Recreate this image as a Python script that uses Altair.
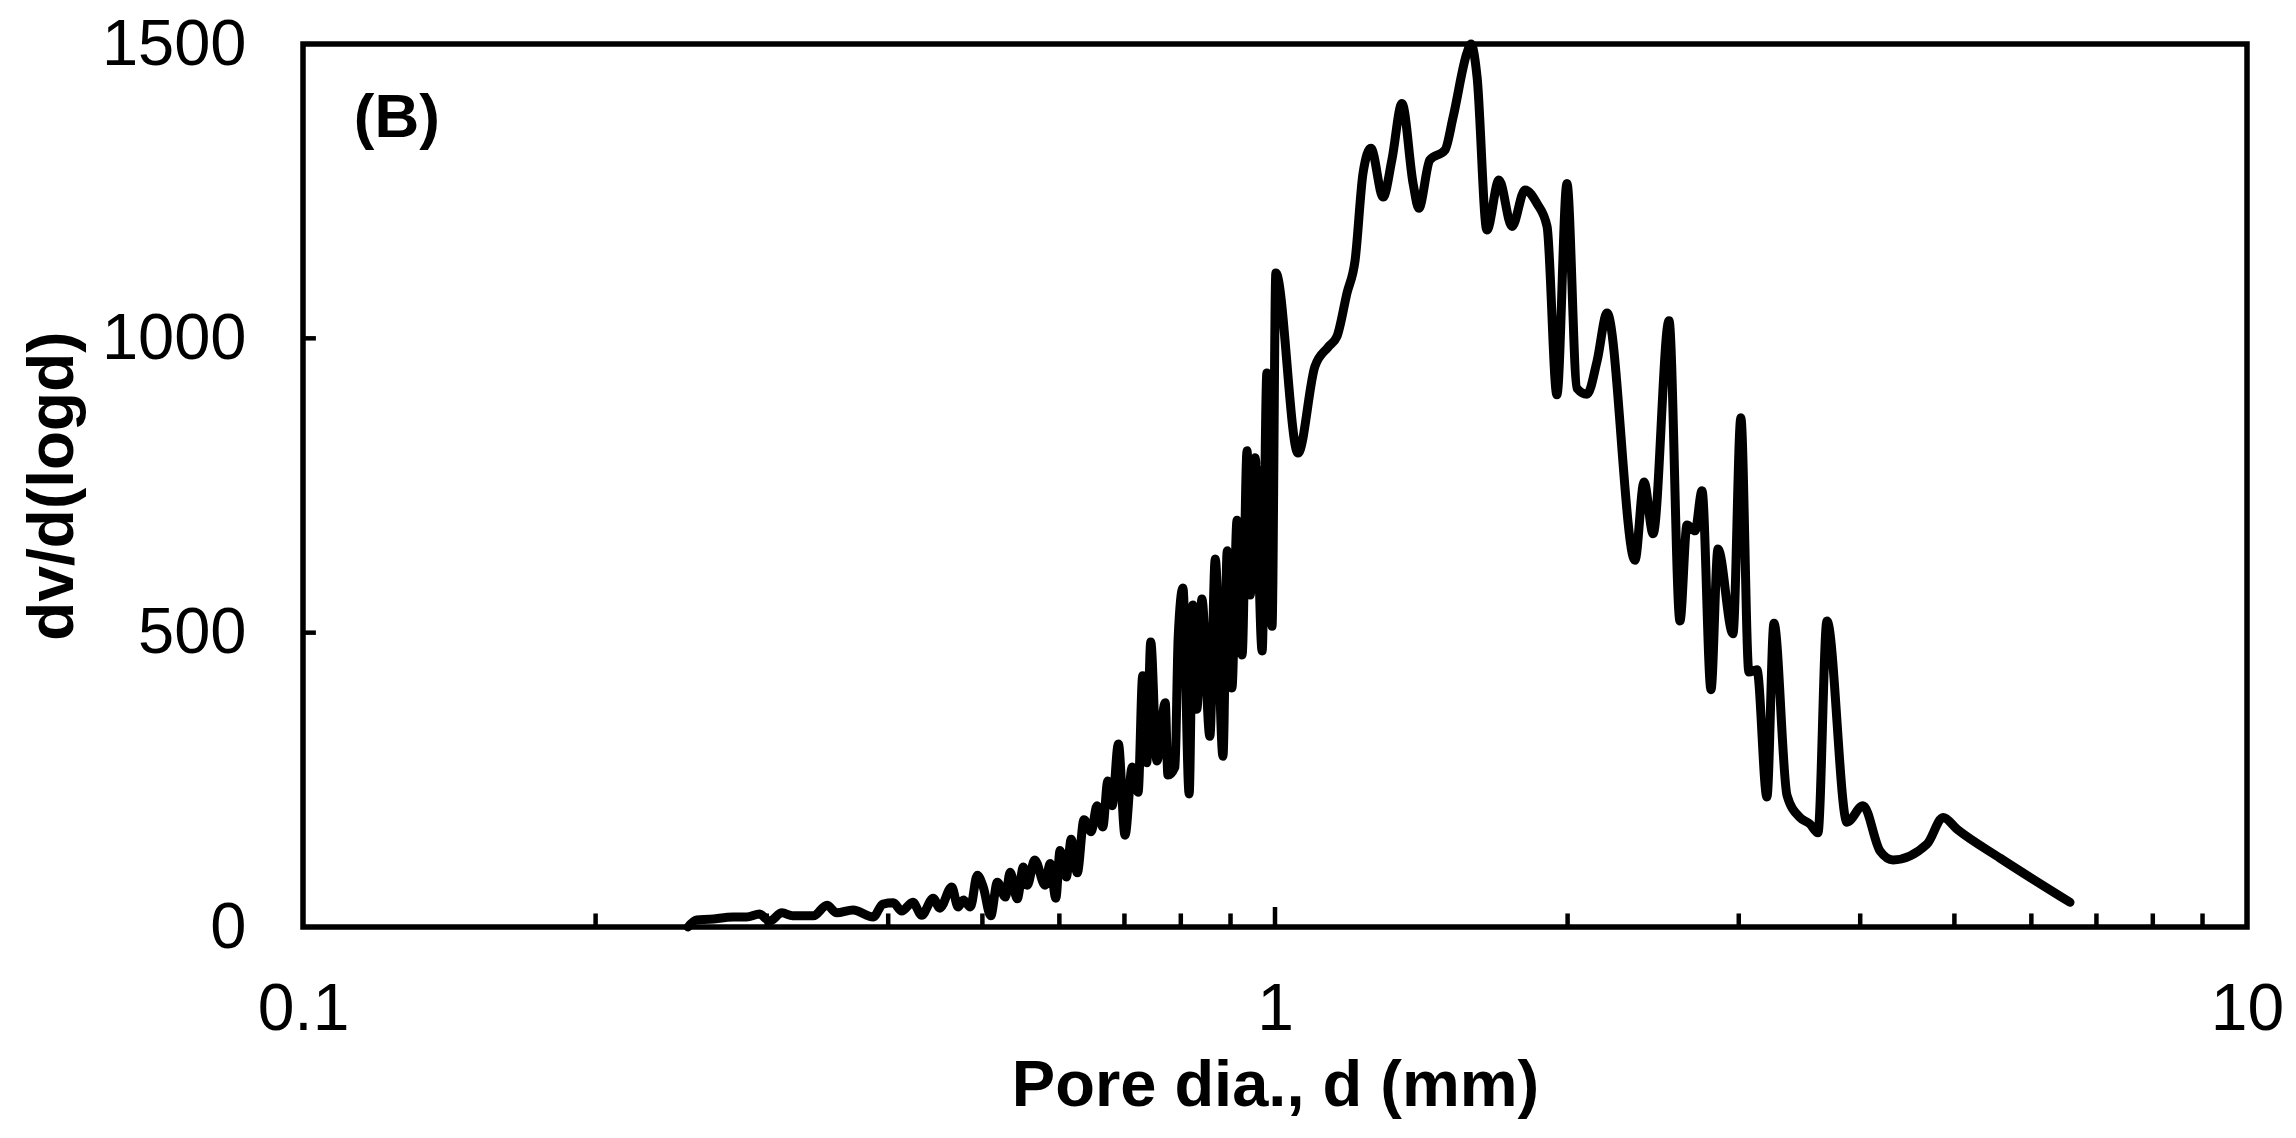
import altair as alt
import pandas as pd

# ---- data ----
pore_dia = [
    0.249, 0.254, 0.262, 0.277, 0.286, 0.295, 0.302, 0.311, 0.319, 0.335,
    0.346, 0.354, 0.368, 0.386, 0.395, 0.405, 0.413, 0.424, 0.433, 0.445,
    0.452, 0.465, 0.472, 0.478, 0.486, 0.494, 0.501, 0.510, 0.518, 0.528,
    0.534, 0.543, 0.551, 0.556, 0.566, 0.580, 0.587, 0.595, 0.601, 0.610,
    0.617, 0.626, 0.636, 0.647, 0.656, 0.665, 0.673, 0.680, 0.690, 0.701,
    0.713, 0.723, 0.731, 0.738, 0.745, 0.756, 0.771, 0.776, 0.789, 0.795,
    0.804, 0.816, 0.823, 0.831, 0.841, 0.857, 0.868, 0.884, 0.893, 0.903,
    0.914, 0.925, 0.936, 0.943, 0.954, 0.970, 0.981, 0.993, 1.002, 1.056,
    1.099, 1.134, 1.158, 1.186, 1.209, 1.232, 1.255, 1.292, 1.319, 1.351,
    1.387, 1.406, 1.443, 1.496, 1.525, 1.576, 1.591, 1.614, 1.652, 1.700,
    1.753, 1.808, 1.860, 1.905, 1.950, 1.997, 2.045, 2.094, 2.145, 2.196,
    2.346, 2.397, 2.449, 2.543, 2.610, 2.654, 2.705, 2.750, 2.809, 2.856,
    2.959, 3.015, 3.073, 3.132, 3.207, 3.261, 3.363, 3.468, 3.551, 3.619,
    3.697, 3.877, 4.027, 4.193, 4.324, 4.687, 4.868, 5.032, 5.571, 6.575,
]
dv_dlogd = [
    0, 12, 13, 17, 17, 22, 10, 24, 19, 19,
    37, 24, 29, 17, 39, 41, 27, 42, 20, 49,
    32, 68, 34, 46, 34, 88, 68, 19, 76, 51,
    93, 48, 102, 71, 114, 71, 108, 49, 130, 85,
    149, 92, 182, 162, 206, 170, 248, 206, 311, 156,
    272, 229, 427, 279, 484, 282, 381, 258, 272, 491,
    576, 226, 547, 370, 557, 324, 625, 290, 639, 406,
    691, 462, 809, 564, 797, 469, 941, 511, 1111, 805,
    952, 985, 1003, 1077, 1133, 1281, 1323, 1240, 1303, 1399,
    1263, 1221, 1303, 1320, 1376, 1485, 1500, 1444, 1184, 1269,
    1190, 1252, 1229, 1190, 904, 1263, 915, 905, 962, 1043,
    623, 756, 668, 1030, 520, 683, 673, 741, 403, 642,
    498, 865, 433, 437, 221, 516, 224, 186, 175, 160,
    520, 178, 206, 129, 114, 141, 186, 166, 117, 42,
]

x_label_values = [0.1, 1, 10]
y_label_values = [0, 500, 1000, 1500]
x_minor_ticks = [0.2, 0.3, 0.4, 0.5, 0.6, 0.7, 0.8, 0.9, 2, 3, 4, 5, 6, 7, 8, 9]
x_major_ticks = [1]
y_inner_ticks = [500, 1000]
panel_label = ["(B)"]
panel_label_x = [0.1128]
panel_label_y = [1342]

FONT = "Liberation Sans"
W, H = 1944, 883

xs = alt.Scale(type="log", domain=[0.1, 10], nice=False)
ys = alt.Scale(domain=[0, 1500], nice=False, zero=False)

x_axis = alt.Axis(
    values=x_label_values, format="~g", title="Pore dia., d (mm)",
    ticks=False, domain=False, grid=False, labelFlush=False, labelOverlap=False,
    labelFont=FONT, labelFontSize=66, labelColor="black", labelPadding=50,
    titleFont=FONT, titleFontSize=65, titleFontWeight="bold", titleColor="black",
    titleBaseline="alphabetic", titleY=178,
)
y_axis = alt.Axis(
    values=y_label_values, format="d", title="dv/d(logd)",
    ticks=False, domain=False, grid=False, labelFlush=False, labelOverlap=False,
    labelFont=FONT, labelFontSize=65, labelColor="black", labelPadding=57,
    titleFont=FONT, titleFontSize=64, titleFontWeight="bold", titleColor="black",
    titleBaseline="alphabetic", titleAngle=270, titleX=-231,
)

df = pd.DataFrame({"d": pore_dia, "v": dv_dlogd})

line = alt.Chart(df).mark_line(
    color="black", strokeWidth=9, interpolate="monotone",
    strokeJoin="round", strokeCap="round",
).encode(
    x=alt.X("d:Q", scale=xs, axis=x_axis),
    y=alt.Y("v:Q", scale=ys, axis=y_axis),
)

xminor = alt.Chart(pd.DataFrame({"d": x_minor_ticks})).mark_rule(
    color="black", strokeWidth=4.5
).encode(
    x=alt.X("d:Q", scale=xs, axis=x_axis),
    y=alt.Y(datum=0, scale=ys, axis=y_axis),
    y2=alt.Y2(datum=23),
)

xmajor = alt.Chart(pd.DataFrame({"d": x_major_ticks})).mark_rule(
    color="black", strokeWidth=4.5
).encode(
    x=alt.X("d:Q", scale=xs, axis=x_axis),
    y=alt.Y(datum=0, scale=ys, axis=y_axis),
    y2=alt.Y2(datum=34),
)

yticks = alt.Chart(pd.DataFrame({"v": y_inner_ticks})).mark_rule(
    color="black", strokeWidth=4.5
).encode(
    y=alt.Y("v:Q", scale=ys, axis=y_axis),
    x=alt.X(datum=0.1, scale=xs, axis=x_axis),
    x2=alt.X2(datum=0.1031),
)

label = alt.Chart(pd.DataFrame({"lab": panel_label, "d": panel_label_x, "v": panel_label_y})).mark_text(
    font=FONT, fontSize=62, fontWeight="bold", color="black",
    align="left", baseline="alphabetic",
).encode(
    x=alt.X("d:Q", scale=xs, axis=x_axis),
    y=alt.Y("v:Q", scale=ys, axis=y_axis),
    text="lab:N",
)

chart = alt.layer(line, xminor, xmajor, yticks, label).properties(
    width=W, height=H,
    autosize=alt.AutoSizeParams(type="none"),
    padding={"left": 295, "top": 36, "right": 41, "bottom": 200},
    background="white",
).configure_view(
    stroke="black", strokeWidth=5.5,
)

chart.save("out.html", embed_options={"renderer": "svg", "actions": False})
